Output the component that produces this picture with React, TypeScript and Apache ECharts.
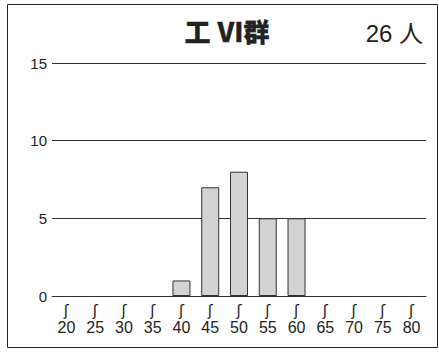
import React, { useEffect, useRef } from "react";
import * as echarts from "echarts";

const categories = ["20", "25", "30", "35", "40", "45", "50", "55", "60", "65", "70", "75", "80"];
const counts = [0, 0, 0, 0, 1, 7, 8, 5, 5, 0, 0, 0, 0];
const yTicks = [0, 5, 10, 15];
const titleText = "工 Ⅵ群";
const totalText = "26 人";

export default function App() {
  const ref = useRef<HTMLDivElement>(null);
  useEffect(() => {
    if (!ref.current) return;
    const chart = echarts.init(ref.current, null, { renderer: "svg" });
    const font = "'Liberation Sans', 'Noto Sans CJK JP', sans-serif";
    chart.setOption({
      animation: false,
      textStyle: { fontFamily: font },
      graphic: [
        {
          type: "rect",
          shape: { x: 7.5, y: 4.5, width: 430, height: 343 },
          style: { fill: "none", stroke: "#222", lineWidth: 1 },
          silent: true,
        },
        {
          type: "text",
          x: 227,
          y: 33,
          style: {
            text: titleText,
            font: "900 26px 'Liberation Sans', 'Noto Sans CJK JP', sans-serif",
            fill: "#222",
            stroke: "#222",
            lineWidth: 0.3,
            align: "center",
            verticalAlign: "middle",
          },
        },
        {
          type: "text",
          x: 423,
          y: 33,
          style: {
            text: totalText,
            font: "24px 'Liberation Sans', 'Noto Sans CJK JP', sans-serif",
            fill: "#222",
            align: "right",
            verticalAlign: "middle",
          },
        },
      ],
      grid: { left: 52, right: 13, top: 63, bottom: 57, containLabel: false },
      xAxis: {
        type: "category",
        data: categories,
        axisTick: { show: false },
        axisLine: { show: true, lineStyle: { color: "#333", width: 1 } },
        axisLabel: {
          interval: 0,
          margin: 7,
          formatter: (v: string) => `{t|ʃ}\n{v|${v}}`,
          rich: {
            t: { fontSize: 15, lineHeight: 15, color: "#222", fontFamily: "'DejaVu Sans', sans-serif" },
            v: { fontSize: 16, lineHeight: 19, color: "#222", fontFamily: font },
          },
        },
      },
      yAxis: {
        type: "value",
        min: yTicks[0],
        max: yTicks[yTicks.length - 1],
        interval: 5,
        axisLine: { show: false },
        axisTick: { show: false },
        axisLabel: { fontSize: 15, color: "#222", margin: 5, fontFamily: font },
        splitLine: { show: true, lineStyle: { color: "#333", width: 1 } },
      },
      series: [
        {
          type: "bar",
          data: counts.map((v) => ({
            value: v,
            itemStyle: v === 0 ? { borderWidth: 0, color: "transparent" } : undefined,
          })),
          barWidth: 18,
          itemStyle: { color: "#d3d3d3", borderColor: "#333", borderWidth: 1 },
        },
      ],
    });
    return () => chart.dispose();
  }, []);
  return (
    <div
      ref={ref}
      style={{ position: "fixed", left: 0, top: 0, width: 439, height: 353, background: "#fff" }}
    />
  );
}
